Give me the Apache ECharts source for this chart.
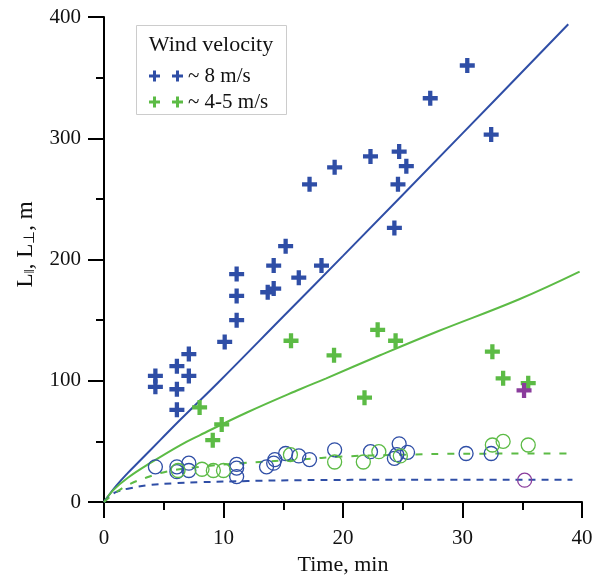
<!DOCTYPE html>
<html>
<head>
<meta charset="utf-8">
<script src="https://cdn.jsdelivr.net/npm/echarts@6/dist/echarts.min.js"></script>
<style>html,body{margin:0;padding:0;background:#fff;}#c{width:609px;height:581px;}</style>
</head>
<body>
<div id="c"></div>
<script>
// ---- data (time in min, length in m) ----
var xTicks = [0, 10, 20, 30, 40];
var yTicks = [0, 100, 200, 300, 400];

var blueCross = [[4.3,104],[4.3,95],[6.1,112],[6.1,93],[6.1,76],[7.1,122],[7.1,104],[10.1,132],
  [11.1,150],[11.1,170],[11.1,188],[13.7,173],[14.2,176],[14.2,195],[15.2,211],[16.3,185],
  [17.2,262],[18.2,195],[19.3,276],[22.3,285],[24.3,226],[24.6,262],[24.7,289],[25.3,277],
  [27.3,333],[30.4,360],[32.4,303]];
var greenCross = [[8.0,78],[9.1,51],[9.85,64],[15.65,133],[19.25,121],[21.8,86],[22.9,142],
  [24.4,133],[32.5,124],[33.4,102],[35.5,98]];
var purpleCross = [[35.15,92]];
var purpleCircle = [[35.2,18]];

var blueCircle = [[4.3,29],[6.1,29],[6.1,25],[7.1,32],[7.1,26],[11.1,31],[11.1,28],[11.1,21],
  [13.6,29],[14.2,32],[14.3,35],[15.2,40],[16.3,38],[17.2,35],[19.3,43],[22.3,41.5],
  [24.3,36],[24.5,39],[24.7,48],[25.4,41],[30.3,40],[32.4,40]];
var greenCircle = [[6.2,26],[8.2,27],[9.15,26],[10,26],[15.6,39],[19.3,33],[21.7,33],
  [23.0,41.5],[24.8,38],[32.5,47],[33.4,50],[35.5,47]];

var blueSolid = [[0,0],[1,13],[2,24],[3,34],[4.7,51],[6.4,68],[9.6,99],[15,153],[20,203],[30,304],[38.85,394]];
var greenSolid = [[0,0],[0.8,10],[2,20],[3.85,32],[6.4,47],[8,55],[12,74],[16.4,93],[18.6,102],[23.1,121],[28,141],[34.7,167],[39.8,190]];
var blueDashed = [[0,0],[0.5,5],[1.1,8.5],[2,11],[3.85,14],[6,15.5],[8,16.3],[12,17.3],[16.4,18],[25,18.3],[39.2,18.3]];
var greenDashed = [[0,0],[1,8],[2.2,15],[3.5,20],[5.2,25],[8,29],[11.4,32],[16.4,35],[20,37.5],[25,39],[30,39.8],[39,40]];

var legendNames = ['~ 8 m/s', '~ 4-5 m/s'];

// ---- styles ----
var BLUE = '#2f4ea6', GREEN = '#5cbb45', PURPLE = '#8a3c9c';
var SERIF = 'Liberation Serif';
var plusPath = 'path://M5,0h4v5h5v4h-5v5h-4v-5h-5v-4h5z';
var twoPlus = 'path://M4,0h3v4h4v3h-4v4h-3v-4h-4v-3h4zM27,0h3v4h4v3h-4v4h-3v-4h-4v-3h4z';

function crossSeries(name, data, color) {
  return { name: name, type: 'scatter', data: data, symbol: plusPath, symbolSize: 15,
    itemStyle: { color: color, opacity: 1 }, z: 5, silent: true };
}
function circleSeries(name, data, color) {
  return { name: name, type: 'scatter', data: data, symbol: 'circle', symbolSize: 14,
    itemStyle: { color: 'rgba(0,0,0,0)', borderColor: color, borderWidth: 1.3, opacity: 1 }, z: 4, silent: true };
}
function lineSeries(name, data, color, dash) {
  return { name: name, type: 'line', data: data, smooth: 0.4, symbol: 'none',
    lineStyle: { color: color, width: 2, type: dash || 'solid' }, z: 3, silent: true };
}

var chart = echarts.init(document.getElementById('c'), null, { renderer: 'canvas' });
chart.setOption({
  animation: false,
  backgroundColor: '#fff',
  grid: { left: 104, right: 27, top: 17, bottom: 79 },
  xAxis: {
    type: 'value', min: xTicks[0], max: xTicks[xTicks.length - 1], interval: 10,
    name: 'Time, min', nameLocation: 'middle', nameGap: 44,
    nameTextStyle: { fontFamily: SERIF, fontSize: 22, color: '#111' },
    axisLine: { show: true, onZero: false, lineStyle: { color: '#000', width: 2 } },
    axisTick: { show: true, length: 16, lineStyle: { color: '#000', width: 2 } },
    minorTick: { show: true, splitNumber: 2, length: 8, lineStyle: { color: '#000', width: 2 } },
    splitLine: { show: false },
    axisLabel: { margin: 26, fontFamily: SERIF, fontSize: 21, color: '#111' }
  },
  yAxis: {
    type: 'value', min: yTicks[0], max: yTicks[yTicks.length - 1], interval: 100,
    name: 'L{s|‖}, L{s|⊥}, m', nameLocation: 'middle', nameGap: 66, nameRotate: 90,
    nameTextStyle: { fontFamily: SERIF, fontSize: 23, color: '#111', padding: [0, 0, 0, 30],
      rich: { s: { fontFamily: SERIF, fontSize: 15, color: '#111', verticalAlign: 'bottom', padding: [9, 0, 0, 0] } } },
    axisLine: { show: true, onZero: false, lineStyle: { color: '#000', width: 2 } },
    axisTick: { show: true, length: 16, lineStyle: { color: '#000', width: 2 } },
    minorTick: { show: true, splitNumber: 2, length: 8, lineStyle: { color: '#000', width: 2 } },
    splitLine: { show: false },
    axisLabel: { margin: 23, fontFamily: SERIF, fontSize: 21, color: '#111' }
  },
  graphic: [
    { type: 'rect', z: 1, shape: { x: 136.5, y: 25.5, width: 150, height: 89 },
      style: { fill: '#fff', stroke: '#cccccc', lineWidth: 1 } },
    { type: 'text', z: 2, x: 211, y: 45,
      style: { text: 'Wind velocity', font: '22px "Liberation Serif"', fill: '#111', align: 'center', verticalAlign: 'middle' } }
  ],
  legend: {
    orient: 'vertical', left: 144, top: 60, itemWidth: 34, itemHeight: 11, itemGap: 4,
    selectedMode: false, z: 10,
    textStyle: { fontFamily: SERIF, fontSize: 21, color: '#111', lineHeight: 22 },
    data: [{ name: legendNames[0], icon: twoPlus }, { name: legendNames[1], icon: twoPlus }]
  },
  series: [
    lineSeries('blueSolid', blueSolid, BLUE),
    lineSeries('greenSolid', greenSolid, GREEN),
    lineSeries('blueDashed', blueDashed, BLUE, [7, 6]),
    lineSeries('greenDashed', greenDashed, GREEN, [7, 9]),
    circleSeries('blueCircle', blueCircle, BLUE),
    circleSeries('greenCircle', greenCircle, GREEN),
    circleSeries('purpleCircle', purpleCircle, PURPLE),
    crossSeries(legendNames[0], blueCross, BLUE),
    crossSeries(legendNames[1], greenCross, GREEN),
    crossSeries('purpleCross', purpleCross, PURPLE)
  ]
});
</script>
</body>
</html>
